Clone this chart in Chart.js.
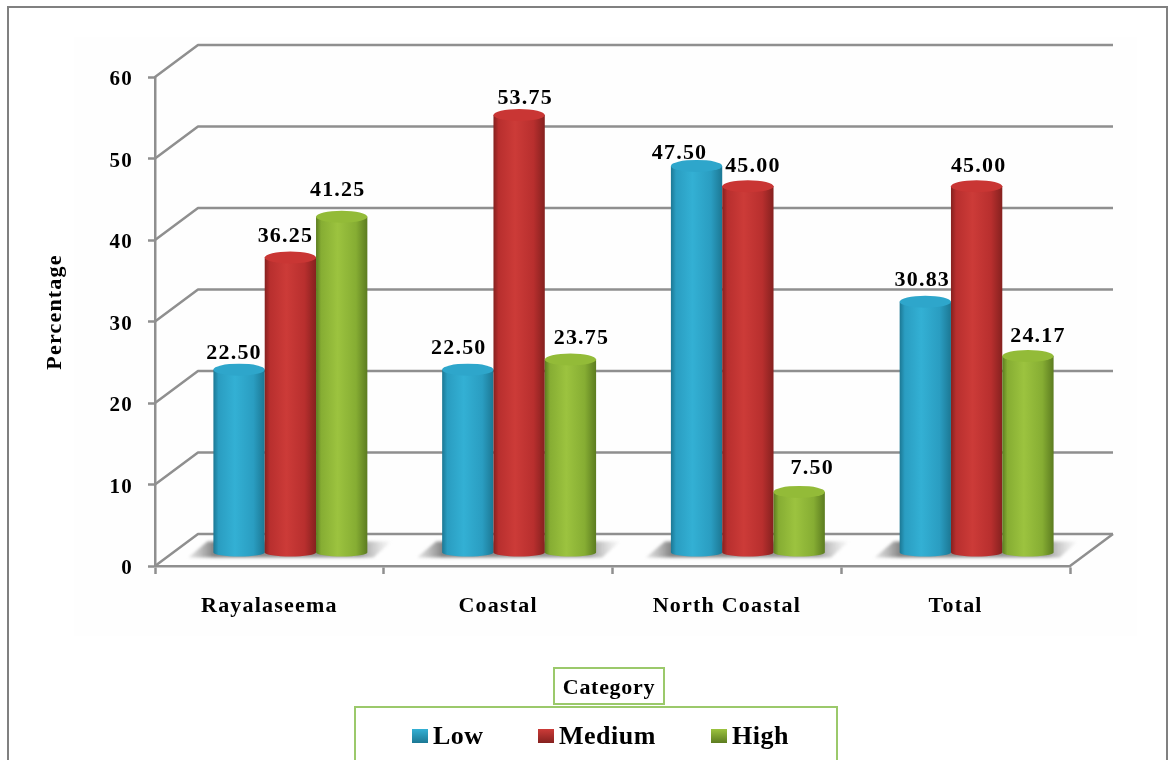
<!DOCTYPE html>
<html>
<head>
<meta charset="utf-8">
<title>Category by region</title>
<script src="https://cdn.jsdelivr.net/npm/chart.js@4/dist/chart.umd.min.js"></script>
<style>
  html, body { margin: 0; padding: 0; background: #fff; overflow: hidden; }
  #page { position: relative; width: 1173px; height: 760px; font-family: "Liberation Serif", serif; font-weight: bold; color: #000; }
  #frame { position: absolute; left: 7px; top: 6px; width: 1157px; height: 780px; border: 2.5px solid #808080; }
  #plate { position: absolute; left: 74px; top: 37px; width: 1063px; height: 599px; background: #fefefe; }
  canvas { position: absolute; left: 0; top: 0; }
  #legendTitle { position: absolute; left: 553px; top: 667px; width: 108px; height: 34px; border: 2px solid #9bc96b; font-size: 22px; line-height: 35px; text-align: center; letter-spacing: 0.7px; }
  #legendBox { position: absolute; left: 354px; top: 706px; width: 480px; height: 80px; border: 2px solid #9bc96b; }
  .item { position: absolute; top: 12px; font-size: 26px; line-height: 32px; letter-spacing: 0.5px; white-space: nowrap; }
  .swatch { position: absolute; left: -21px; top: 9px; width: 16px; height: 14px; }
</style>
</head>
<body>
<div id="page">
  <div id="frame"></div>
  <div id="plate"></div>
  <canvas id="chart" width="1173" height="760" role="img" aria-label="Percentage by category and region"></canvas>
  <div id="legendTitle">Category</div>
  <div id="legendBox"></div>
</div>
<script>
const regions = ['Rayalaseema', 'Coastal', 'North Coastal', 'Total'];
const seriesNames = ['Low', 'Medium', 'High'];
const lowValues = [22.50, 22.50, 47.50, 30.83];
const mediumValues = [36.25, 53.75, 45.00, 45.00];
const highValues = [41.25, 23.75, 7.50, 24.17];
const yAxisTitle = 'Percentage';

// dark edge, body, highlight, cap
const shades = [
  ['#1c7894', '#2a9dc1', '#33b0d4', '#2ea6cb'],
  ['#85211f', '#b82f2e', '#cc3b38', '#c93634'],
  ['#5c7c20', '#86ad33', '#9cc33f', '#93bb38']
];
const swatchLeft = [77, 203, 376];

// the bars and wall sit behind the front plane of the axes
const depthX = 21, depthY = -13;
const wallX = 43, wallY = -32;
const capRy = 6, footRy = 4;
const lineGray = '#8f8f8f';
const labelFont = 'bold 22px "Liberation Serif"';
const tracking = '1.2px';

// hand nudges for the value labels, [dx, dy] per series and region
const labelNudge = [
  [[-5, 4], [-9, -1], [-17, 7], [-3, -1]],
  [[-5, -1], [6, 3], [5, 0], [2, 0]],
  [[-4, -7], [11, -1], [13, -4], [10, 0]]
];

function cylinderGradient(ctx, left, right, colors) {
  const g = ctx.createLinearGradient(left, 0, right, 0);
  g.addColorStop(0, colors[0]);
  g.addColorStop(0.1, colors[1]);
  g.addColorStop(0.42, colors[2]);
  g.addColorStop(0.78, colors[1]);
  g.addColorStop(1, colors[0]);
  return g;
}

function drawShadow(ctx, l, r, yb) {
  const g = ctx.createLinearGradient(l - 24, 0, r + 26, 0);
  g.addColorStop(0, 'rgba(150,150,150,0.25)');
  g.addColorStop(0.12, 'rgba(125,125,125,0.95)');
  g.addColorStop(0.84, 'rgba(140,140,140,0.85)');
  g.addColorStop(1, 'rgba(190,190,190,0)');
  ctx.fillStyle = g;
  ctx.filter = 'blur(1.5px)';
  ctx.beginPath();
  ctx.moveTo(l - 25, yb + 5);
  ctx.lineTo(l - 6, yb - 11);
  ctx.lineTo(r + 24, yb - 11);
  ctx.lineTo(r + 6, yb + 5);
  ctx.closePath();
  ctx.fill();
  ctx.filter = 'none';
}

function drawCylinder(ctx, bar, colors) {
  const cx = bar.x + depthX, rx = bar.width / 2;
  const top = bar.y + depthY, base = bar.base + depthY;
  ctx.fillStyle = cylinderGradient(ctx, cx - rx, cx + rx, colors);
  ctx.beginPath();
  ctx.moveTo(cx - rx, top);
  ctx.lineTo(cx - rx, base);
  ctx.ellipse(cx, base, rx, footRy, 0, Math.PI, 0, true);
  ctx.lineTo(cx + rx, top);
  ctx.closePath();
  ctx.fill();
  ctx.fillStyle = colors[3];
  ctx.beginPath();
  ctx.ellipse(cx, top, rx, capRy, 0, 0, Math.PI * 2);
  ctx.fill();
}

const wallPlugin = {
  id: 'wall',
  beforeDraw(chart) {
    chart.ctx.letterSpacing = tracking;
  },
  beforeDatasetsDraw(chart) {
    const { ctx, chartArea, scales } = chart;
    const { left, right, bottom } = chartArea;
    ctx.save();
    ctx.strokeStyle = lineGray;
    ctx.lineWidth = 2.5;
    ctx.lineJoin = 'round';
    scales.y.ticks.forEach(t => {
      const y = scales.y.getPixelForValue(t.value);
      ctx.beginPath();
      ctx.moveTo(left, y);
      ctx.lineTo(left + wallX, y + wallY);
      ctx.lineTo(right + wallX, y + wallY);
      ctx.stroke();
    });
    ctx.beginPath();
    ctx.moveTo(right, bottom);
    ctx.lineTo(right + wallX, bottom + wallY);
    ctx.stroke();

    const metas = [0, 1, 2].map(i => chart.getDatasetMeta(i));
    regions.forEach((r, i) => {
      const first = metas[0].data[i], last = metas[2].data[i];
      drawShadow(ctx, first.x - first.width / 2 + depthX, last.x + last.width / 2 + depthX, first.base + depthY);
    });
    // cylinders go left to right so each one overlaps its left neighbour
    metas.forEach((meta, s) => meta.data.forEach(bar => drawCylinder(ctx, bar, shades[s])));
    ctx.restore();
  },
  // flat bar rectangles are replaced by the cylinders above
  beforeDatasetDraw() {
    return false;
  },
  afterDatasetsDraw(chart) {
    const { ctx } = chart;
    ctx.save();
    ctx.font = labelFont;
    ctx.fillStyle = '#000';
    ctx.textAlign = 'center';
    ctx.textBaseline = 'middle';
    [0, 1, 2].forEach(s => {
      chart.getDatasetMeta(s).data.forEach((bar, i) => {
        const v = chart.data.datasets[s].data[i];
        const n = labelNudge[s][i];
        ctx.fillText(v.toFixed(2), bar.x + depthX + n[0], bar.y + depthY - 20 + n[1]);
      });
    });
    // axis title sits a little above the middle of the axis
    ctx.translate(55, 312);
    ctx.rotate(-Math.PI / 2);
    ctx.fillText(yAxisTitle, 0, 0);
    ctx.restore();
  }
};

new Chart(document.getElementById('chart').getContext('2d'), {
  type: 'bar',
  data: {
    labels: regions,
    datasets: [
      { label: seriesNames[0], data: lowValues, backgroundColor: shades[0][1] },
      { label: seriesNames[1], data: mediumValues, backgroundColor: shades[1][1] },
      { label: seriesNames[2], data: highValues, backgroundColor: shades[2][1] }
    ]
  },
  options: {
    responsive: false,
    animation: false,
    layout: { padding: { left: 0, top: 77, right: 103, bottom: 0 } },
    datasets: { bar: { categoryPercentage: 0.673, barPercentage: 1 } },
    plugins: { legend: { display: false }, tooltip: { enabled: false } },
    scales: {
      x: {
        afterFit: scale => { scale.height = 194; },
        grid: { drawOnChartArea: false, tickLength: 8, tickColor: lineGray, tickWidth: 2.5, offset: true },
        border: { color: lineGray, width: 2.5 },
        ticks: {
          padding: 19,
          maxRotation: 0,
          color: '#000',
          font: { family: 'Liberation Serif', weight: 'bold', size: 22 }
        }
      },
      y: {
        min: 0,
        max: 60,
        afterFit: scale => { scale.width = 155; },
        grid: { drawOnChartArea: false, tickLength: 7, tickColor: lineGray, tickWidth: 2.5 },
        border: { color: lineGray, width: 2.5 },
        ticks: {
          stepSize: 10,
          padding: 15,
          labelOffset: 3,
          color: '#000',
          font: { family: 'Liberation Serif', weight: 'bold', size: 21 }
        }
      }
    }
  },
  plugins: [wallPlugin]
});

// legend strip
const legendBox = document.getElementById('legendBox');
seriesNames.forEach((name, i) => {
  const item = document.createElement('div');
  item.className = 'item';
  item.style.left = swatchLeft[i] + 'px';
  item.textContent = name;
  const swatch = document.createElement('span');
  swatch.className = 'swatch';
  swatch.style.background = 'linear-gradient(180deg,' + shades[i][2] + ',' + shades[i][0] + ')';
  item.appendChild(swatch);
  legendBox.appendChild(item);
});
</script>
</body>
</html>
